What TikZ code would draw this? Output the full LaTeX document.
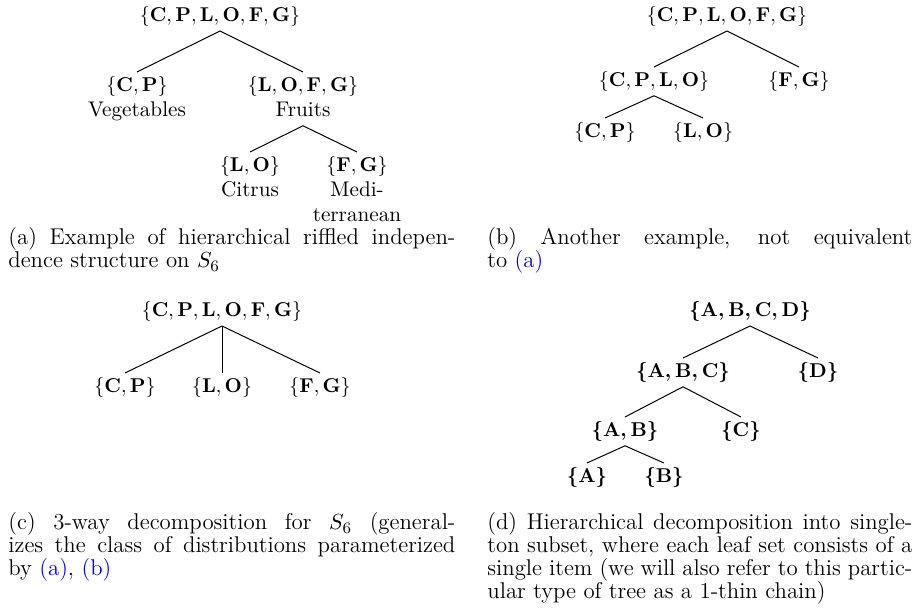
\documentclass[tikz,border=0pt]{standalone}
\usepackage{tikz}
\usepackage{xcolor}
\usetikzlibrary{positioning}
\tolerance=10000
\hbadness=10000

\begin{document}
\begin{tikzpicture}[
				x=0.5pt, y=-0.5pt,
				set/.style={inner sep=2pt, text depth=2.5pt, align=center, font=\fontsize{10}{12.5}\selectfont},
				boldset/.style={set, font=\fontsize{10}{12.5}\selectfont\mathversion{bold}},
				branch/.style={line width=0.5pt},
				subcap/.style={anchor=base west, align=justify, inner sep=0pt, font=\fontsize{11.4}{11.5}\selectfont}
				]
				
				\useasboundingbox (0,0) rectangle (917,614);
				
				% Arbol (a)
				\node[set, anchor=south] (rootA) at (220,31) {$\{\mathbf{C},\mathbf{P},\mathbf{L},\mathbf{O},\mathbf{F},\mathbf{G}\}$};
				\node[set, anchor=north] (cpA)   at (137,72)  {$\{\mathbf{C},\mathbf{P}\}$\\{\fontsize{10.6}{12.5}\selectfont Vegetables}};
				\node[set, anchor=north] (lofgA) at (303,72)  {$\{\mathbf{L},\mathbf{O},\mathbf{F},\mathbf{G}\}$\\{\fontsize{10.6}{12.5}\selectfont Fruits}};
				\node[set, anchor=north] (loA)   at (250,152) {$\{\mathbf{L},\mathbf{O}\}$\\{\fontsize{10.6}{12.5}\selectfont Citrus}};
				\node[set, anchor=north] (fgA)   at (357,152) {$\{\mathbf{F},\mathbf{G}\}$\\{\fontsize{10.6}{12.5}\selectfont Medi-}\\{\fontsize{10.6}{12.5}\selectfont terranean}};
				
				\path[branch]
				(rootA.south) edge (cpA.north)
				(rootA.south) edge (lofgA.north)
				(lofgA.south) edge (loA.north)
				(lofgA.south) edge (fgA.north);
				
				% Arbol (b)
				\node[set, anchor=south] (rootB) at (727,31) {$\{\mathbf{C},\mathbf{P},\mathbf{L},\mathbf{O},\mathbf{F},\mathbf{G}\}$};
				\node[set, anchor=north] (cploB) at (654,67)  {$\{\mathbf{C},\mathbf{P},\mathbf{L},\mathbf{O}\}$};
				\node[set, anchor=north] (fgB)   at (799,67)  {$\{\mathbf{F},\mathbf{G}\}$};
				\node[set, anchor=north] (cpB)   at (605,118) {$\{\mathbf{C},\mathbf{P}\}$};
				\node[set, anchor=north] (loB)   at (703,118) {$\{\mathbf{L},\mathbf{O}\}$};
				
				\path[branch]
				(rootB.south) edge (cploB.north)
				(rootB.south) edge (fgB.north)
				(cploB.south) edge (cpB.north)
				(cploB.south) edge (loB.north);
				
				% Arbol (c)
				\node[set, anchor=south] (rootC) at (222,326) {$\{\mathbf{C},\mathbf{P},\mathbf{L},\mathbf{O},\mathbf{F},\mathbf{G}\}$};
				\node[set, anchor=north] (cpC)   at (125,373) {$\{\mathbf{C},\mathbf{P}\}$};
				\node[set, anchor=north] (loC)   at (222,373) {$\{\mathbf{L},\mathbf{O}\}$};
				\node[set, anchor=north] (fgC)   at (320,373) {$\{\mathbf{F},\mathbf{G}\}$};
				
				\path[branch]
				(rootC.south) edge (cpC.north)
				(rootC.south) edge (loC.north)
				(rootC.south) edge (fgC.north);
				
				% Arbol (d)
				\node[boldset, anchor=south] (rootD) at (750,326) {$\{\mathbf{A},\mathbf{B},\mathbf{C},\mathbf{D}\}$};
				\node[boldset, anchor=north] (abcD)  at (683,358) {$\{\mathbf{A},\mathbf{B},\mathbf{C}\}$};
				\node[boldset, anchor=north] (dD)    at (818,358) {$\{\mathbf{D}\}$};
				\node[boldset, anchor=north] (abD)   at (625,417) {$\{\mathbf{A},\mathbf{B}\}$};
				\node[boldset, anchor=north] (cD)    at (741,417) {$\{\mathbf{C}\}$};
				\node[boldset, anchor=north] (aD)    at (587,463) {$\{\mathbf{A}\}$};
				\node[boldset, anchor=north] (bD)    at (664,463) {$\{\mathbf{B}\}$};
				
				\path[branch]
				(rootD.south) edge (abcD.north)
				(rootD.south) edge (dD.north)
				(abcD.south) edge (abD.north)
				(abcD.south) edge (cD.north)
				(abD.south) edge (aD.north)
				(abD.south) edge (bD.north);
				
				% Leyendas
				\node[subcap, text width=223.5pt] (capA) at (8,245)
				{(a) Example of hierarchical riffled indepen-\linebreak dence structure on $S_6$};
				\node[subcap, text width=212.5pt] (capB) at (487,245)
				{(b) Another example, not equivalent\linebreak to \textcolor{blue}{(a)}};
				\node[subcap, text width=223.5pt] (capC) at (8,530)
				{(c) 3-way decomposition for $S_6$ (general-\linebreak izes the class of distributions parameterized\linebreak by \textcolor{blue}{(a)}, \textcolor{blue}{(b)}};
				\node[subcap, text width=212.5pt] (capD) at (487,530)
				{(d) Hierarchical decomposition into single-\linebreak ton subset, where each leaf set consists of a\linebreak single item (we will also refer to this partic-\linebreak ular type of tree as a 1-thin chain)};
				
			\end{tikzpicture}
\end{document}
